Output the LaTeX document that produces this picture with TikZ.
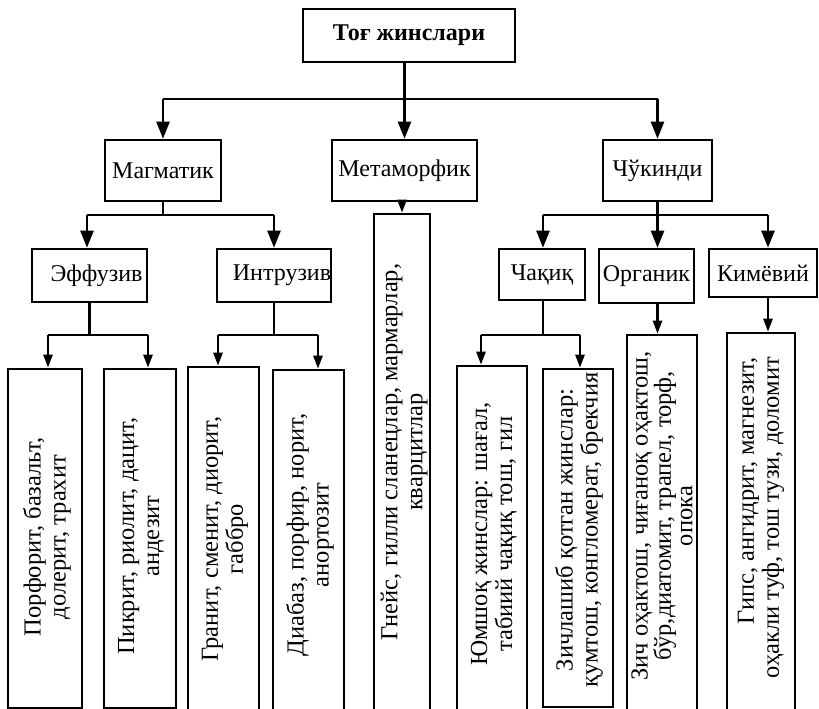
\documentclass[tikz,border=0pt]{standalone}
\usepackage{fontspec}
\setmainfont{Liberation Serif}
\usetikzlibrary{arrows.meta}
\begin{document}
\spaceskip=12pt plus 2pt minus 1pt\relax
\begin{tikzpicture}[x=1pt,y=-1pt,
  bx/.style={draw, line width=2.6pt, inner sep=0pt},
  lbl/.style={bx, font=\fontsize{24}{28}\selectfont},
  coltxt/.style={rotate=90, align=center, inner sep=0pt,
    font=\fontsize{24.5}{25}\selectfont},
  ln/.style={line width=2.4pt},
  arr/.style={ln, -{Triangle[length=17pt,width=13pt]}},
  sarr/.style={ln, -{Triangle[length=13pt,width=9pt]}}]
\useasboundingbox (0,0) rectangle (819,709);
% level 1
\node[lbl, minimum width=212pt, minimum height=53pt, font=\bfseries\fontsize{24}{28}\selectfont] (top) at (409,35.5) {Тоғ жинслари};
% level 2
\node[lbl, minimum width=116pt, minimum height=61pt] (mag) at (163,170.5) {Магматик};
\node[lbl, minimum width=145pt, minimum height=61pt] (met) at (404.5,170.5) {Метаморфик};
\node[lbl, minimum width=109pt, minimum height=61pt] (chu) at (657.5,170.5) {Чўкинди};
% level 3
\node[lbl, minimum width=115pt, minimum height=53pt] (eff) at (89.5,275.5) {\hspace*{14pt}Эффузив};
\node[lbl, minimum width=114pt, minimum height=53pt] (intr) at (274,275.5) {\hspace*{16pt}Интрузив};
\node[lbl, minimum width=86pt, minimum height=51pt] (chaq) at (542,274.5) {Чақиқ};
\node[lbl, minimum width=95pt, minimum height=54pt] (org) at (646.5,276) {Органик};
\node[lbl, minimum width=108pt, minimum height=48pt] (kim) at (763,273) {Кимёвий};
% columns
\node[bx, minimum width=56pt, minimum height=498pt] (metc) at (402,463) {};
\node[bx, minimum width=74pt, minimum height=339pt] (por) at (45,538.5) {};
\node[bx, minimum width=72pt, minimum height=339pt] (pik) at (140,538.5) {};
\node[bx, minimum width=71pt, minimum height=345pt] (gra) at (223.5,539.5) {};
\node[bx, minimum width=71pt, minimum height=342pt] (dia) at (308.5,541) {};
\node[bx, minimum width=70pt, minimum height=346pt] (yum) at (492,539) {};
\node[bx, minimum width=70pt, minimum height=338pt] (zich) at (578,538) {};
\node[bx, minimum width=70pt, minimum height=377pt] (orgc) at (662,523.5) {};
\node[bx, minimum width=68pt, minimum height=379pt] (kimc) at (761,522.5) {};
% column texts
\node[coltxt] (tmet) at (404,452) {Гнейс, гилли сланецлар, мармарлар,\\кварцитлар};
\node[coltxt] (tpor) at (47,537) {Порфорит, базальт,\\долерит, трахит};
\node[coltxt] (tpik) at (141,536) {Пикрит, риолит, дацит,\\андезит};
\node[coltxt] (tgra) at (225,539) {Гранит, сменит, диорит,\\габбро};
\node[coltxt] (tdia) at (310,535) {Диабаз, порфир, норит,\\анортозит};
\node[coltxt] (tyum) at (494,534) {Юмшоқ жинслар: шағал,\\табиий чақиқ тош, гил};
\node[coltxt] (tzich) at (579,530) {Зичлашиб қотган жинслар:\\қумтош, конгломерат, брекчия};
\node[coltxt, font=\fontsize{24.5}{21.5}\selectfont] (torg) at (662,516) {Зич оҳактош, чиғаноқ оҳактош,\\бўр,диатомит, трапел, торф,\\опока};
\node[coltxt, align=right] (tkim) at (761,518) {Гипс, ангидрит, магнезит,\\оҳакли туф, тош тузи, доломит};
% buses
\coordinate (bus1) at (0,99);
\coordinate (bus2) at (0,215);
\coordinate (bus3) at (0,335);
\coordinate (aPor) at (48,0);
\coordinate (aPik) at (148,0);
\coordinate (aGra) at (218,0);
\coordinate (aDia) at (318,0);
\coordinate (aYum) at (481,0);
\coordinate (aZich) at (580,0);
\coordinate (aEff) at (87,0);
\coordinate (aChaq) at (543,0);
\coordinate (aKim) at (768,0);
% level 1 -> 2
\draw[arr] (met.north |- top.south) -- (met.north);
\draw[ln] (mag.north |- bus1) -- (chu.north |- bus1);
\draw[arr] (mag.north |- bus1) -- (mag.north);
\draw[arr] (chu.north |- bus1) -- (chu.north);
% level 2 -> 3
\draw[ln] (mag.south) -- (mag.south |- bus2);
\draw[ln] (aEff |- bus2) -- (intr.north |- bus2);
\draw[arr] (aEff |- bus2) -- (aEff |- eff.north);
\draw[arr] (intr.north |- bus2) -- (intr.north);
\draw[sarr] (met.south -| metc.north) -- (metc.north);
\draw[ln] (chu.south) -- (chu.south |- bus2);
\draw[ln] (aChaq |- bus2) -- (aKim |- bus2);
\draw[arr] (aChaq |- bus2) -- (aChaq |- chaq.north);
\draw[arr] (chu.south |- bus2) -- (chu.south |- org.north);
\draw[arr] (aKim |- bus2) -- (aKim |- kim.north);
% level 3 -> 4
\draw[ln] (eff.south) -- (eff.south |- bus3);
\draw[ln] (aPor |- bus3) -- (aPik |- bus3);
\draw[sarr] (aPor |- bus3) -- (aPor |- por.north);
\draw[sarr] (aPik |- bus3) -- (aPik |- pik.north);
\draw[ln] (intr.south) -- (intr.south |- bus3);
\draw[ln] (aGra |- bus3) -- (aDia |- bus3);
\draw[sarr] (aGra |- bus3) -- (aGra |- gra.north);
\draw[sarr] (aDia |- bus3) -- (aDia |- dia.north);
\draw[ln] (chaq.south -| aChaq) -- (aChaq |- bus3);
\draw[ln] (aYum |- bus3) -- (aZich |- bus3);
\draw[sarr] (aYum |- bus3) -- (aYum |- yum.north);
\draw[sarr] (aZich |- bus3) -- (aZich |- zich.north);
\draw[sarr] (org.south -| chu.south) -- (orgc.north -| chu.south);
\draw[sarr] (kim.south -| aKim) -- (kimc.north -| aKim);
\end{tikzpicture}
\end{document}
